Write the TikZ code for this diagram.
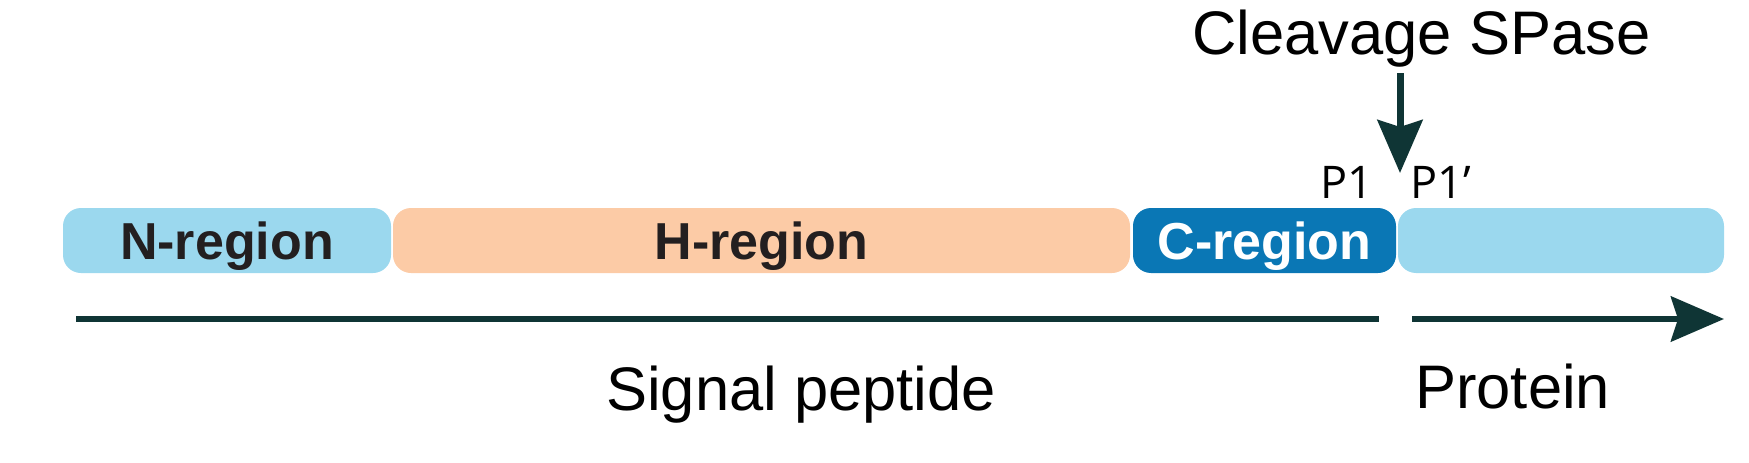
\documentclass[tikz,border=0pt]{standalone}
\usepackage{fontspec}
\setmainfont{Liberation Sans}
\newfontfamily\pfont{Open Sans}
\usetikzlibrary{arrows.meta}
\definecolor{nblue}{HTML}{9BD8EE}
\definecolor{peach}{HTML}{FCCBA6}
\definecolor{cblue}{HTML}{0A77B5}
\definecolor{darkline}{HTML}{0F3535}
\definecolor{txt}{HTML}{231F20}
\tikzset{
  region/.style={rounded corners=18pt, minimum height=65pt, inner sep=0pt,
    text height=37pt, text depth=0pt, font=\fontsize{52}{60}\selectfont\bfseries, text=txt},
  label/.style={inner sep=0pt, anchor=base west, font=\fontsize{61.5}{70}\selectfont, text=black},
  plabel/.style={inner sep=0pt, anchor=base west, font=\pfont\fontsize{45}{52}\selectfont, text=black},
  seqline/.style={draw=darkline, line width=6.5pt},
  bigtip/.style={-{Stealth[length=53pt, width=45pt, inset=7pt]}}
}
\begin{document}
\begin{tikzpicture}[x=1pt,y=-1pt]
\useasboundingbox (0,0) rectangle (1749,463);
\node[region, fill=nblue, minimum width=328pt] (nreg) at (227,240.5) {N-region};
\node[region, fill=peach, minimum width=737pt] (hreg) at (761.5,240.5) {H-region};
\node[region, fill=cblue, minimum width=263pt, text=white] (creg) at (1264.5,240.5) {C-region};
\node[region, fill=nblue, minimum width=326pt] (prot) at (1561,240.5) {};
\node[label] (cleave) at (1192,54) {Cleavage SPase};
\node[label] (sig) at (606,410) {Signal peptide};
\node[label] (protlab) at (1415,408) {Protein};
\node[plabel] (pone) at (1320,198) {P1};
\node[plabel] (ponep) at (1410,198) {P1’};
\coordinate (cutstart) at (1400,73);
\coordinate (cut) at (1400,173);
\coordinate (s1) at (76,319);
\coordinate (s2) at (1379,319);
\coordinate (p1) at (1412,319);
\coordinate (p2) at (1724,319);
\draw[seqline] (s1) -- (s2);
\draw[seqline, bigtip] (p1) -- (p2);
\draw[draw=darkline, line width=7pt, bigtip, fill=darkline] (cutstart) -- (cut);
\end{tikzpicture}
\end{document}
